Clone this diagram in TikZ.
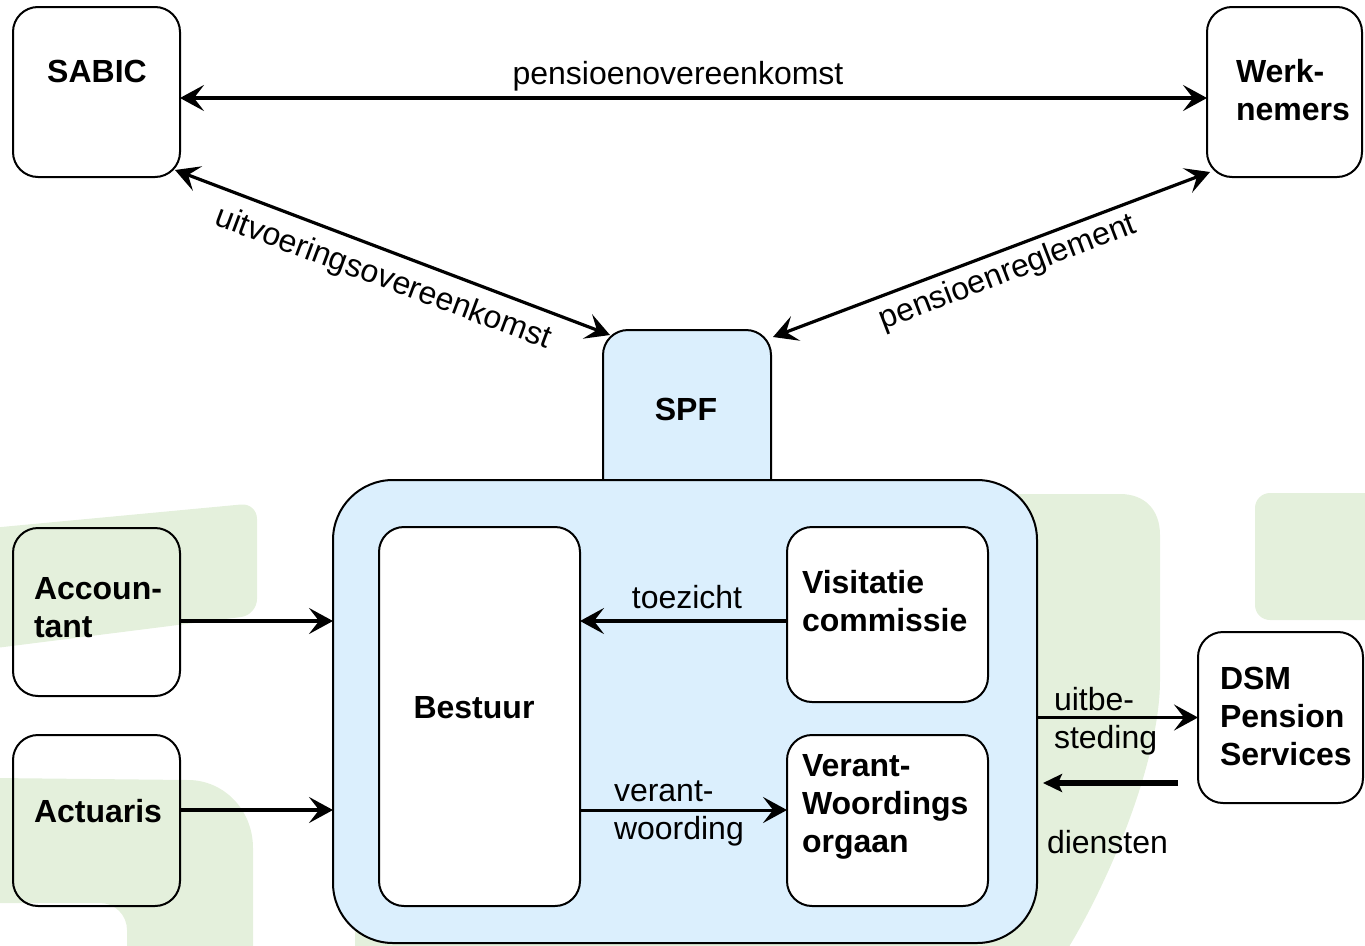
\documentclass[tikz,border=0pt]{standalone}
\usepackage{fontspec}
\setmainfont{Liberation Sans}
\usetikzlibrary{arrows.meta,calc}
\definecolor{logogreen}{RGB}{228,240,220}
\definecolor{orgblue}{RGB}{219,239,253}
\tikzset{
  hd/.tip={Stealth[length=24pt,width=26pt,inset=10pt]},
  hdsmall/.tip={Stealth[length=19pt,width=18pt,inset=4pt]}
}
\begin{document}
\begin{tikzpicture}[x=1pt,y=-1pt,
  every node/.style={inner sep=0pt, outer sep=0pt, font=\fontsize{32}{38}\selectfont},
  box/.style={draw=black, line width=2pt, rounded corners=25pt, anchor=north west},
  ibox/.style={box, fill=white},
  lbl/.style={font=\fontsize{32}{38}\selectfont\bfseries, align=left},
  txt/.style={font=\fontsize{32}{38}\selectfont, align=left},
  arr/.style={line width=3.2pt, -hd},
  darr/.style={line width=3.2pt, hd-hd},
  thickarr/.style={line width=6pt, -hdsmall}
]
\useasboundingbox (0,0) rectangle (1365,945);

% faint background logo
\fill[logogreen, rounded corners=16pt] (-20,529) -- (257,503) -- (257,615) -- (-20,650) -- cycle;
\fill[logogreen] (-5,778) -- (188,780) .. controls (224,780) and (253,810) .. (253,848)
  -- (253,950) -- (127,950) -- (127,930) .. controls (127,915) and (115,903) .. (100,903)
  -- (-5,903) -- cycle;
\fill[logogreen] (355,950) -- (355,553) .. controls (355,520) and (380,494) .. (410,494)
  -- (1120,494) .. controls (1145,494) and (1160,510) .. (1160,535)
  -- (1160,680) .. controls (1160,760) and (1110,880) .. (1067,950) -- cycle;
\fill[logogreen, rounded corners=15pt] (1255,493) rectangle (1390,620);

% outer nodes
\node[box, minimum width=167, minimum height=170] (sabic) at (13,7) {};
\node[box, minimum width=155, minimum height=170] (werk) at (1207,7) {};
\node[box, fill=orgblue, minimum width=168, minimum height=200] (spf) at (603,330) {};
\node[box, fill=orgblue, rounded corners=60pt, minimum width=704, minimum height=463] (org) at (333,480) {};
\node[ibox, minimum width=201, minimum height=379] (bestuur) at (379,527) {};
\node[ibox, minimum width=201, minimum height=175] (visit) at (787,527) {};
\node[ibox, minimum width=201, minimum height=171] (verant) at (787,735) {};
\node[box, minimum width=167, minimum height=168] (acc) at (13,528) {};
\node[box, minimum width=167, minimum height=171] (act) at (13,735) {};
\node[box, minimum width=165, minimum height=171] (dsm) at (1198,632) {};

% helper coordinates
\coordinate (top1) at ($(sabic.east)+(0,6)$);
\coordinate (accout) at ($(acc.east)+(0,9)$);
\coordinate (actout) at ($(act.east)+(0,-10.5)$);
\coordinate (visout) at ($(visit.west)+(0,6.5)$);
\coordinate (verin) at ($(verant.west)+(0,-10.5)$);
\coordinate (dstart) at (1178,783);

% connectors
\draw[darr] (top1) -- (top1 -| werk.west);
\draw[darr] ($(sabic.south east)+(-5,-7)$) -- ($(spf.north west)+(7,5)$);
\draw[darr] ($(spf.north east)+(2,7)$) -- ($(werk.south west)+(3,-5)$);
\draw[arr] (accout) -- (accout -| org.west);
\draw[arr] (actout) -- (actout -| org.west);
\draw[arr] (visout) -- (visout -| bestuur.east);
\draw[arr, line width=3pt] (verin -| bestuur.east) -- (verin);
\draw[arr, line width=3pt] (dsm.west -| org.east) -- (dsm.west);
\draw[thickarr, shorten >=6pt] (dstart) -- (dstart -| org.east);

% texts (multi-line nodes: base = baseline of last line)
\node[lbl, anchor=base] (sabic-l) at (97,82) {SABIC};
\node[lbl, anchor=base west] (werk-l) at (1236,120) {Werk-\\nemers};
\node[lbl, anchor=base] (spf-l) at (686,420) {SPF};
\node[txt, anchor=base] (po-l) at (678,84) {pensioenovereenkomst};
\node[txt, rotate=-20.5] (uo-l) at (383,279) {uitvoeringsovereenkomst};
\node[txt, rotate=21] (pr-l) at (1008,273) {pensioenreglement};
\node[lbl, anchor=base west] (acc-l) at (34,637) {Accoun-\\tant};
\node[lbl, anchor=base west] (act-l) at (34,822) {Actuaris};
\node[lbl, anchor=base] (bes-l) at (474,718) {Bestuur};
\node[lbl, anchor=base west] (vis-l) at (802,631) {Visitatie\\commissie};
\node[lbl, anchor=base west] (ver-l) at (802,852) {Verant-\\Woordings\\orgaan};
\node[txt, anchor=base] (toe-l) at (687,608) {toezicht};
\node[txt, anchor=base west] (vw-l) at (614,839) {verant-\\woording};
\node[txt, anchor=base west] (uit-l) at (1054,748) {uitbe-\\steding};
\node[txt, anchor=base west] (die-l) at (1047,853) {diensten};
\node[lbl, anchor=base west] (dsm-l) at (1220,765) {DSM\\Pension\\Services};
\end{tikzpicture}
\end{document}
